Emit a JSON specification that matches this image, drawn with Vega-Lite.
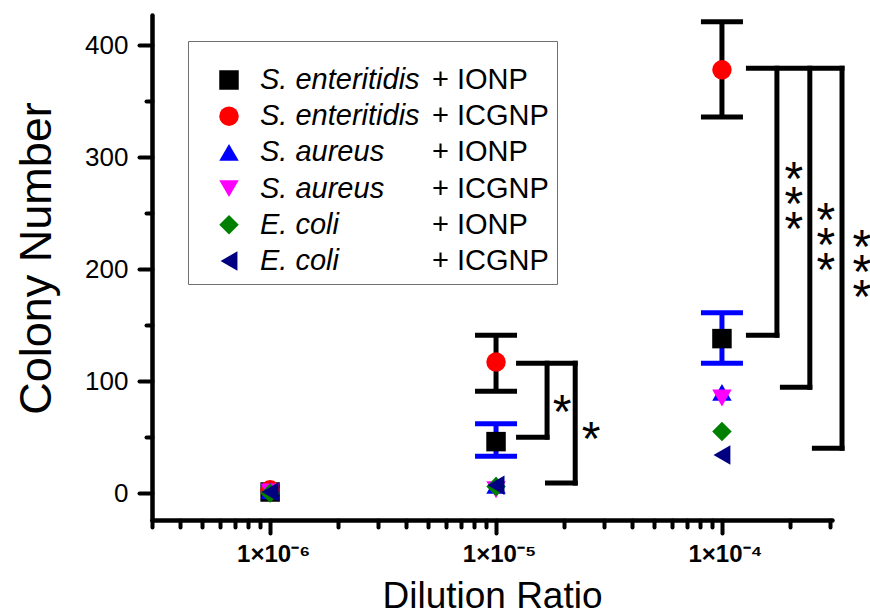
{
  "$schema": "https://vega.github.io/schema/vega-lite/v6.json",
  "width": 680,
  "height": 505,
  "autosize": {"type": "none"},
  "padding": {"left": 152, "top": 15, "right": 38, "bottom": 96},
  "background": "white",
  "config": {
    "view": {"stroke": null},
    "font": "Liberation Sans",
    "point": {"opacity": 1},
    "axis": {"labelColor": "black", "titleColor": "black", "tickColor": "black", "domainColor": "black", "grid": false, "labelFont": "Liberation Sans", "titleFont": "Liberation Sans"}
  },
  "datasets": {
    "points": [
      {"dilution": 1e-6, "series": "S. enteritidis + IONP", "colonies": 1},
      {"dilution": 1e-6, "series": "S. enteritidis + ICGNP", "colonies": 3},
      {"dilution": 1e-6, "series": "S. aureus + IONP", "colonies": 2},
      {"dilution": 1e-6, "series": "S. aureus + ICGNP", "colonies": 1},
      {"dilution": 1e-6, "series": "E. coli + IONP", "colonies": 0},
      {"dilution": 1e-6, "series": "E. coli + ICGNP", "colonies": 1},
      {"dilution": 1e-5, "series": "S. enteritidis + IONP", "colonies": 46, "lo": 33, "hi": 62},
      {"dilution": 1e-5, "series": "S. enteritidis + ICGNP", "colonies": 117, "lo": 91, "hi": 141},
      {"dilution": 1e-5, "series": "S. aureus + IONP", "colonies": 7},
      {"dilution": 1e-5, "series": "S. aureus + ICGNP", "colonies": 3},
      {"dilution": 1e-5, "series": "E. coli + IONP", "colonies": 6},
      {"dilution": 1e-5, "series": "E. coli + ICGNP", "colonies": 7},
      {"dilution": 1e-4, "series": "S. enteritidis + IONP", "colonies": 138, "lo": 116, "hi": 161},
      {"dilution": 1e-4, "series": "S. enteritidis + ICGNP", "colonies": 378, "lo": 336, "hi": 421},
      {"dilution": 1e-4, "series": "S. aureus + IONP", "colonies": 90},
      {"dilution": 1e-4, "series": "S. aureus + ICGNP", "colonies": 85},
      {"dilution": 1e-4, "series": "E. coli + IONP", "colonies": 55},
      {"dilution": 1e-4, "series": "E. coli + ICGNP", "colonies": 34}
    ],
    "brackets": [
      {"x": 1.258e-5, "x2": 2.241e-5, "y": 116, "y2": 116},
      {"x": 1.682e-5, "x2": 1.682e-5, "y": 116, "y2": 50},
      {"x": 1.258e-5, "x2": 1.682e-5, "y": 50, "y2": 50},
      {"x": 2.241e-5, "x2": 2.241e-5, "y": 116, "y2": 9},
      {"x": 1.69e-5, "x2": 2.241e-5, "y": 9, "y2": 9},
      {"x": 1.31e-4, "x2": 3.4e-4, "y": 379.5, "y2": 379.5},
      {"x": 1.751e-4, "x2": 1.751e-4, "y": 379.5, "y2": 141},
      {"x": 1.31e-4, "x2": 1.751e-4, "y": 141, "y2": 141},
      {"x": 2.449e-4, "x2": 2.449e-4, "y": 379.5, "y2": 94.6},
      {"x": 1.852e-4, "x2": 2.449e-4, "y": 94.6, "y2": 94.6},
      {"x": 3.4e-4, "x2": 3.4e-4, "y": 379.5, "y2": 40},
      {"x": 2.566e-4, "x2": 3.4e-4, "y": 40, "y2": 40}
    ],
    "star1": [
      {"x": 1.96e-5, "y": 78.6, "text": "*"},
      {"x": 2.633e-5, "y": 54.5, "text": "*"}
    ],
    "star3": [
      {"x": 2.083e-4, "y": 268.8, "text": "*\n*\n*"},
      {"x": 2.884e-4, "y": 232.1, "text": "*\n*\n*"},
      {"x": 4.16e-4, "y": 208, "text": "*\n*\n*"}
    ]
  },
  "resolve": {"axis": {"x": "independent", "y": "independent"}},
  "layer": [
    {
      "data": {"name": "points"},
      "transform": [{"filter": "isValid(datum.lo)"}],
      "mark": {"type": "rule", "strokeWidth": 5},
      "encoding": {
        "x": {"field": "dilution", "type": "quantitative", "scale": {"type": "log", "domain": [3e-7, 3.07e-4], "nice": false}, "axis": null},
        "y": {"field": "lo", "type": "quantitative", "scale": {"domain": [-24, 427], "nice": false, "zero": false}, "axis": null},
        "y2": {"field": "hi"},
        "color": {"condition": {"test": "datum.series === 'S. enteritidis + IONP'", "value": "#0000ff"}, "value": "black"}
      }
    },
    {
      "data": {"name": "points"},
      "transform": [{"filter": "isValid(datum.lo)"}],
      "mark": {"type": "tick", "orient": "horizontal", "size": 42, "thickness": 5, "opacity": 1},
      "encoding": {
        "x": {"field": "dilution", "type": "quantitative", "scale": {"type": "log", "domain": [3e-7, 3.07e-4], "nice": false}, "axis": null},
        "y": {"field": "lo", "type": "quantitative", "scale": {"domain": [-24, 427], "nice": false, "zero": false}, "axis": null},
        "color": {"condition": {"test": "datum.series === 'S. enteritidis + IONP'", "value": "#0000ff"}, "value": "black"}
      }
    },
    {
      "data": {"name": "points"},
      "transform": [{"filter": "isValid(datum.hi)"}],
      "mark": {"type": "tick", "orient": "horizontal", "size": 42, "thickness": 5, "opacity": 1},
      "encoding": {
        "x": {"field": "dilution", "type": "quantitative", "scale": {"type": "log", "domain": [3e-7, 3.07e-4], "nice": false}, "axis": null},
        "y": {"field": "hi", "type": "quantitative", "scale": {"domain": [-24, 427], "nice": false, "zero": false}, "axis": null},
        "color": {"condition": {"test": "datum.series === 'S. enteritidis + IONP'", "value": "#0000ff"}, "value": "black"}
      }
    },
    {
      "data": {"name": "brackets"},
      "mark": {"type": "rule", "strokeWidth": 5, "strokeCap": "square", "color": "black"},
      "encoding": {
        "x": {"field": "x", "type": "quantitative", "scale": {"type": "log", "domain": [3e-7, 3.07e-4], "nice": false},
          "axis": {"orient": "bottom", "values": [3e-7, 4e-7, 5e-7, 6e-7, 7e-7, 8e-7, 9e-7, 2e-6, 3e-6, 4e-6, 5e-6, 6e-6, 7e-6, 8e-6, 9e-6, 2e-5, 3e-5, 4e-5, 5e-5, 6e-5, 7e-5, 8e-5, 9e-5, 2e-4, 3e-4],
            "labels": false, "domain": false, "ticks": true, "tickSize": 7, "tickWidth": 4, "tickCap": "round", "title": null, "grid": false}},
        "x2": {"field": "x2"},
        "y": {"field": "y", "type": "quantitative", "scale": {"domain": [-24, 427], "nice": false, "zero": false},
          "axis": {"orient": "left", "values": [50, 150, 250, 350], "labels": false, "domain": false, "ticks": true, "tickSize": 6, "tickWidth": 4, "tickCap": "round", "title": null, "grid": false}},
        "y2": {"field": "y2"}
      }
    },
    {
      "data": {"name": "star1"},
      "mark": {"type": "text", "fontSize": 48, "font": "Liberation Sans", "baseline": "middle", "align": "center", "dy": 9, "color": "black"},
      "encoding": {
        "x": {"field": "x", "type": "quantitative", "scale": {"type": "log", "domain": [3e-7, 3.07e-4], "nice": false}, "axis": null},
        "y": {"field": "y", "type": "quantitative", "scale": {"domain": [-24, 427], "nice": false, "zero": false}, "axis": null},
        "text": {"field": "text"}
      }
    },
    {
      "data": {"name": "star3"},
      "mark": {"type": "text", "fontSize": 48, "font": "Liberation Sans", "lineBreak": "\n", "lineHeight": 25, "baseline": "middle", "align": "center", "dy": -11, "color": "black"},
      "encoding": {
        "x": {"field": "x", "type": "quantitative", "scale": {"type": "log", "domain": [3e-7, 3.07e-4], "nice": false}, "axis": null},
        "y": {"field": "y", "type": "quantitative", "scale": {"domain": [-24, 427], "nice": false, "zero": false}, "axis": null},
        "text": {"field": "text"}
      }
    },
    {
      "data": {"name": "points"},
      "transform": [{"calculate": "'~' + datum.series", "as": "series2"}],
      "mark": {"type": "point", "filled": true, "strokeWidth": 0},
      "encoding": {
        "x": {"field": "dilution", "type": "quantitative", "scale": {"type": "log", "domain": [3e-7, 3.07e-4], "nice": false},
          "axis": {"orient": "bottom", "values": [1e-6, 1e-5, 1e-4],
            "labelExpr": "datum.value < 3e-6 ? '1×10⁻⁶' : datum.value < 3e-5 ? '1×10⁻⁵' : '1×10⁻⁴'",
            "labelFont": "Liberation Sans Narrow, Liberation Sans", "labelFontWeight": "bold", "labelFontSize": 24, "labelPadding": 9, "labelOffset": 3,
            "tickSize": 13, "tickWidth": 4, "tickCap": "round", "domainWidth": 4.5, "domainCap": "round",
            "title": "Dilution Ratio", "titleFontSize": 37, "titleFontWeight": "normal", "titlePadding": 12, "grid": false}},
        "y": {"field": "colonies", "type": "quantitative", "scale": {"domain": [-24, 427], "nice": false, "zero": false},
          "axis": {"orient": "left", "values": [0, 100, 200, 300, 400], "labelFontSize": 26, "labelPadding": 11,
            "tickSize": 13, "tickWidth": 4, "tickCap": "round", "domainWidth": 4.5, "domainCap": "round",
            "title": "Colony Number", "titleFontSize": 45, "titleFontWeight": "normal", "titlePadding": 25, "titleY": 243, "grid": false}},
        "color": {"field": "series", "type": "nominal",
          "scale": {"domain": ["S. enteritidis + IONP", "S. enteritidis + ICGNP", "S. aureus + IONP", "S. aureus + ICGNP", "E. coli + IONP", "E. coli + ICGNP"],
            "range": ["#000000", "#ff0000", "#0000ff", "#ff00ff", "#008000", "#000080"]},
          "legend": {"orient": "none", "legendX": 36, "legendY": 26, "title": " ", "titleFontSize": 13, "titlePadding": 4, "padding": 7.5,
            "labelFontSize": 29, "labelFont": "Liberation Sans", "labelFontStyle": "italic", "labelColor": "black",
            "labelExpr": "trim(slice(datum.label, 0, indexof(datum.label, '+')))",
            "symbolSize": 380, "symbolStrokeWidth": 0, "symbolOffset": 19, "labelOffset": 16.5, "rowPadding": 6.2, "labelLimit": 400}},
        "shape": {"field": "series", "type": "nominal",
          "scale": {"domain": ["S. enteritidis + IONP", "S. enteritidis + ICGNP", "S. aureus + IONP", "S. aureus + ICGNP", "E. coli + IONP", "E. coli + ICGNP"],
            "range": ["square", "circle", "triangle-up", "triangle-down", "diamond", "triangle-left"]},
          "legend": {"orient": "none", "legendX": 36, "legendY": 26, "title": " ", "titleFontSize": 13, "titlePadding": 4, "padding": 7.5,
            "labelFontSize": 29, "labelFont": "Liberation Sans", "labelFontStyle": "italic", "labelColor": "black",
            "labelExpr": "trim(slice(datum.label, 0, indexof(datum.label, '+')))",
            "symbolSize": 380, "symbolStrokeWidth": 0, "symbolOffset": 19, "labelOffset": 16.5, "rowPadding": 6.2, "labelLimit": 400}},
        "size": {"field": "series2", "type": "ordinal",
          "scale": {"domain": ["~S. enteritidis + IONP", "~S. enteritidis + ICGNP", "~S. aureus + IONP", "~S. aureus + ICGNP", "~E. coli + IONP", "~E. coli + ICGNP"],
            "range": [380, 380]},
          "legend": {"orient": "none", "legendX": 36, "legendY": 26, "title": " ", "titleFontSize": 13, "titlePadding": 4, "padding": 7.5, "strokeColor": "#707070",
            "labelFontSize": 29, "labelFont": "Liberation Sans", "labelColor": "black",
            "labelExpr": "slice(datum.label, indexof(datum.label, '+'))",
            "symbolOpacity": 0, "symbolStrokeWidth": 0, "symbolOffset": 19, "labelOffset": 188.5, "rowPadding": 6.2, "labelLimit": 400}}
      }
    }
  ]
}
